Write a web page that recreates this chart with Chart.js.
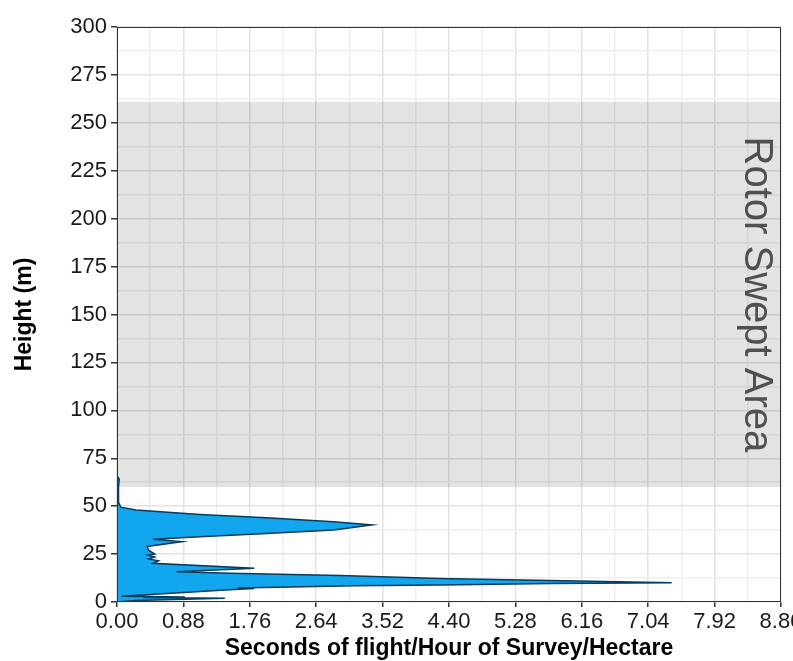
<!DOCTYPE html>
<html>
<head>
<meta charset="utf-8">
<script src="https://cdn.jsdelivr.net/npm/chart.js@4/dist/chart.umd.min.js"></script>
<style>
  html, body { margin: 0; padding: 0; background: #fff; overflow: hidden; }
</style>
</head>
<body>
<canvas id="chart" width="793" height="661"></canvas>
<script>
// density outline (seconds of flight vs height)
const densityX = [0, 0.25, 1.43, 0.35, 0.9, 0.06, 0.5, 1.43, 1.82, 1.6, 3.15, 4.28, 5.74, 7.35,
  5.74, 4.28, 2.96, 1.5, 0.79, 1.82, 0.48, 0.55, 0.42, 0.5, 0.41, 0.5, 0.42, 0.40, 0.86, 0.48,
  1.10, 1.98, 2.87, 3.38, 2.87, 1.98, 1.10, 0.25, 0.05, 0.02, 0.02, 0.03, 0];
const densityY = [0, 0.8, 1.9, 2.3, 2.6, 3.0, 4.0, 6.2, 7.0, 7.3, 8.5, 8.9, 9.6, 10.1,
  11.2, 12.3, 13.8, 15.0, 15.8, 17.6, 20.2, 21.5, 22.5, 23.5, 24.5, 25, 27, 29, 31.5, 32.7,
  34.1, 35.8, 37.6, 40.2, 41.9, 44.0, 45.7, 48.0, 49.5, 52, 60, 64, 66];

const xTickLabels = ['0.00', '0.88', '1.76', '2.64', '3.52', '4.40', '5.28', '6.16', '7.04', '7.92', '8.80'];
const yTickLabels = ['0', '25', '50', '75', '100', '125', '150', '175', '200', '225', '250', '275', '300'];

const rotorBand = [60, 261];
const rotorLabel = 'Rotor Swept Area';

const points = densityX.map((x, i) => ({ x: x, y: densityY[i] }));

// major ticks from the labels, plus a minor one between each pair
function withMinor(labels) {
  const vals = labels.map(Number);
  const out = [];
  vals.forEach((v, i) => {
    out.push({ value: v, major: true });
    if (i < vals.length - 1) out.push({ value: (v + vals[i + 1]) / 2, major: false });
  });
  return out;
}

const bandPlugin = {
  id: 'band',
  beforeDatasetsDraw(chart) {
    const { ctx, chartArea, scales } = chart;
    const top = scales.y.getPixelForValue(rotorBand[1]);
    const bottom = scales.y.getPixelForValue(rotorBand[0]);
    ctx.save();
    ctx.fillStyle = 'rgba(0,0,0,0.11)';
    ctx.fillRect(chartArea.left, top, chartArea.right - chartArea.left, bottom - top);
    ctx.restore();
  },
  afterDatasetsDraw(chart) {
    const { ctx, scales } = chart;
    const cx = scales.x.getPixelForValue(8.47);
    const cy = scales.y.getPixelForValue((rotorBand[0] + rotorBand[1]) / 2);
    ctx.save();
    ctx.translate(cx, cy);
    ctx.rotate(Math.PI / 2);
    ctx.fillStyle = '#505050';
    ctx.font = '40px "Liberation Sans", Arial, sans-serif';
    ctx.textAlign = 'center';
    ctx.textBaseline = 'middle';
    ctx.fillText(rotorLabel, 0, 0);
    ctx.restore();
  },
  afterDraw(chart) {
    const { ctx, chartArea } = chart;
    ctx.save();
    ctx.strokeStyle = '#333';
    ctx.lineWidth = 1;
    ctx.strokeRect(Math.round(chartArea.left) + 0.5, Math.round(chartArea.top) + 0.5,
      Math.round(chartArea.right - chartArea.left) - 1, Math.round(chartArea.bottom - chartArea.top) - 1);
    ctx.restore();
  }
};

const tickFont = { family: '"Liberation Sans", Arial, sans-serif', size: 22 };
const titleFont = { family: '"Liberation Sans", Arial, sans-serif', size: 23, weight: 'bold' };

new Chart(document.getElementById('chart'), {
  type: 'scatter',
  data: {
    datasets: [{
      data: points,
      showLine: true,
      fill: 'shape',
      backgroundColor: '#12a6ee',
      borderColor: '#0c3a58',
      borderWidth: 1.5,
      pointRadius: 0,
      tension: 0
    }]
  },
  options: {
    responsive: false,
    animation: false,
    layout: { padding: { top: 27, right: 12, left: 0, bottom: 0 } },
    plugins: { legend: { display: false }, tooltip: { enabled: false } },
    scales: {
      x: {
        type: 'linear',
        min: 0,
        max: 8.8,
        afterBuildTicks(scale) { scale.ticks = withMinor(xTickLabels); },
        afterFit(scale) { scale.height = 59; scale.paddingLeft = 0; scale.paddingRight = 0; },
        ticks: {
          autoSkip: false,
          maxRotation: 0,
          padding: 2,
          color: '#1a1a1a',
          font: tickFont,
          callback: (v, i, ticks) => ticks[i].major ? xTickLabels[i / 2] : ''
        },
        grid: {
          color: (c) => c.tick && c.tick.major ? '#e3e3e3' : '#efefef',
          lineWidth: 1.5,
          tickLength: 5,
          tickColor: (c) => c.tick && c.tick.major ? '#333' : 'rgba(0,0,0,0)'
        },
        border: { display: false },
        title: { display: true, text: 'Seconds of flight/Hour of Survey/Hectare', color: '#000', font: titleFont, padding: { top: 0, bottom: -1 } }
      },
      y: {
        type: 'linear',
        min: 0,
        max: 300,
        afterBuildTicks(scale) { scale.ticks = withMinor(yTickLabels); },
        afterFit(scale) { scale.width = 117; scale.paddingTop = 0; scale.paddingBottom = 0; },
        ticks: {
          autoSkip: false,
          padding: 4,
          color: '#1a1a1a',
          font: tickFont,
          callback: (v, i, ticks) => ticks[i].major ? yTickLabels[i / 2] : ''
        },
        grid: {
          color: (c) => c.tick && c.tick.major ? '#e3e3e3' : '#efefef',
          lineWidth: 1.5,
          tickLength: 6,
          tickColor: (c) => c.tick && c.tick.major ? '#333' : 'rgba(0,0,0,0)'
        },
        border: { display: false },
        title: { display: true, text: 'Height (m)', color: '#000', font: titleFont, padding: { top: 11, bottom: 0 } }
      }
    }
  },
  plugins: [bandPlugin]
});
</script>
</body>
</html>
